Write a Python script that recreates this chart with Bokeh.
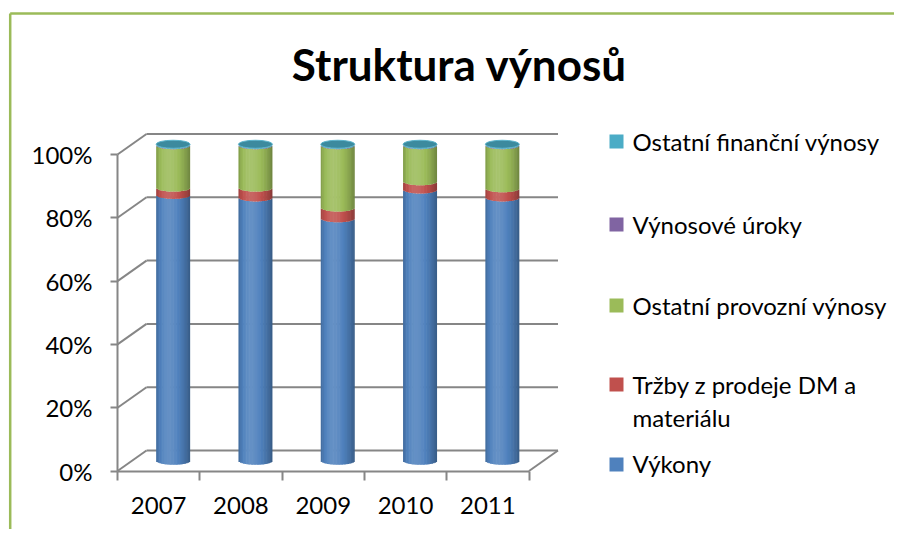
import numpy as np
from bokeh.plotting import figure
from bokeh.models import Range1d, FixedTicker, PrintfTickFormatter, ColumnDataSource
from bokeh.core.properties import value
from bokeh.embed import file_html
from bokeh.resources import INLINE

# ---------------- data ----------------
years = ["2007", "2008", "2009", "2010", "2011"]
vykony = [84.0, 83.2, 76.6, 85.7, 83.2]
trzby = [2.3, 3.1, 3.4, 2.6, 2.9]
provozni = [13.4, 13.4, 19.7, 11.4, 13.6]
uroky = [0.1, 0.1, 0.1, 0.1, 0.1]
financni = [0.2, 0.2, 0.2, 0.2, 0.2]

series_names = ["Výkony", "Tržby z prodeje DM a materiálu", "Ostatní provozní výnosy",
                "Výnosové úroky", "Ostatní finanční výnosy"]
series_colors = ["#4f81bd", "#c0504d", "#9bbb59", "#8064a2", "#4bacc6"]
y_ticks = [0, 20, 40, 60, 80, 100]
title_text = "Struktura výnosů"

# ---------------- layout geometry (canvas px) ----------------
W, H = 894, 529
AX_L = 117.0     # canvas x of the front-left corner (category -0.5)
AX_B = 470.5     # canvas y of 0 %
PX_X = 82.3      # px per category
PX_Y = 3.165     # px per percent
FONT = "Lato"
GRID = "#868686"

def cx(px):
    return -0.5 + (px - AX_L) / PX_X

def cy(py):
    return (AX_B - py) / PX_Y

DX = 29 / PX_X
DY = 20.5 / PX_Y
CW = 34 / PX_X
EH = 8 / PX_Y

p = figure(width=W, height=H, output_backend="svg", toolbar_location=None,
           x_range=Range1d(cx(0), cx(W)), y_range=Range1d(cy(H), cy(0)),
           min_border_left=0, min_border_right=0, min_border_top=0,
           min_border_bottom=0)
p.outline_line_color = None
p.xgrid.visible = False
p.ygrid.visible = False
p.background_fill_color = "white"
p.border_fill_color = "white"

n = len(years)

# y axis (drawn at the front-left edge)
ya = p.yaxis[0]
ya.fixed_location = -0.5
ya.ticker = FixedTicker(ticks=y_ticks)
ya.formatter = PrintfTickFormatter(format="%d%%")
ya.bounds = (0, 100)
ya.axis_line_color = GRID
ya.axis_line_width = 2
ya.major_tick_line_color = GRID
ya.major_tick_line_width = 2
ya.major_tick_out = 7
ya.major_tick_in = 0
ya.minor_tick_line_color = None
ya.major_label_text_font = FONT
ya.major_label_text_font_size = "24px"
ya.major_label_text_color = "black"
ya.major_label_standoff = 18

# x axis (front floor edge)
xa = p.xaxis[0]
xa.fixed_location = 0
xa.ticker = FixedTicker(ticks=list(range(n)),
                        minor_ticks=[i - 0.5 for i in range(n + 1)])
xa.major_label_overrides = {i: y for i, y in enumerate(years)}
xa.bounds = (-0.5, n - 0.5)
xa.axis_line_color = GRID
xa.axis_line_width = 2
xa.major_tick_line_color = None
xa.major_tick_out = 0
xa.major_tick_in = 0
xa.minor_tick_line_color = GRID
xa.minor_tick_line_width = 2
xa.minor_tick_out = 9
xa.minor_tick_in = 0
xa.major_label_text_font = FONT
xa.major_label_text_font_size = "24px"
xa.major_label_text_color = "black"
xa.major_label_standoff = 17

# ---------------- 3D walls ----------------
x0f, x1f = -0.5, n - 0.5
p.segment(x0=[x0f] * len(y_ticks), y0=y_ticks,
          x1=[x0f + DX] * len(y_ticks), y1=[t + DY for t in y_ticks],
          line_color=GRID, line_width=2)
p.segment(x0=[x0f + DX] * len(y_ticks), y0=[t + DY for t in y_ticks],
          x1=[x1f + DX] * len(y_ticks), y1=[t + DY for t in y_ticks],
          line_color=GRID, line_width=2)
p.segment(x0=[x1f], y0=[0], x1=[x1f + DX], y1=[DY], line_color=GRID, line_width=2)

# ---------------- cylinders ----------------
def shade(hx, f):
    r, g, b = int(hx[1:3], 16), int(hx[3:5], 16), int(hx[5:7], 16)
    if f >= 1:
        k = min(1.0, (f - 1) * 1.5)
        r, g, b = r + (255 - r) * k, g + (255 - g) * k, b + (255 - b) * k
    else:
        r, g, b = r * f, g * f, b * f
    return "#%02x%02x%02x" % (int(round(r)), int(round(g)), int(round(b)))

NS = 22
us = (np.arange(NS) + 0.5) / NS * 2 - 1
prof = [1.08 - 0.38 * ((u + 0.3) / 1.3) ** 2 - 0.15 * max(0.0, -u) ** 4 for u in us]
overlap = 0.6 / PX_X

values = [vykony, trzby, provozni, uroky, financni]
totals = np.sum(np.array(values), axis=0)
cum = np.zeros(n)
for vals, color, name in zip(values, series_colors, series_names):
    pct = np.array(vals) / totals * 100.0
    L, R, B, T, C = [], [], [], [], []
    for i in range(n):
        c0 = i + DX / 2
        for j, u in enumerate(us):
            a = EH / 2 * np.sqrt(max(0.0, 1 - u * u))
            left = c0 - CW / 2 + j * CW / NS
            right = min(left + CW / NS + overlap, c0 + CW / 2)
            L.append(left)
            R.append(right)
            B.append(DY / 2 + cum[i] - a)
            T.append(DY / 2 + cum[i] + pct[i] - a)
            C.append(shade(color, prof[j]))
    src = ColumnDataSource(dict(left=L, right=R, bottom=B, top=T, color=C))
    p.quad(left="left", right="right", bottom="bottom", top="top", fill_color="color",
           line_color=None, source=src, name=name)
    cum += pct

p.ellipse(x=[i + DX / 2 for i in range(n)], y=[DY / 2 + c for c in cum],
          width=CW, height=EH, fill_color=shade(series_colors[-1], 0.8),
          line_color=shade(series_colors[-1], 1.05), line_width=1)

# ---------------- title ----------------
p.text(x=[cx(459)], y=[cy(63)], text=[title_text], text_font=value(FONT),
       text_font_size="44px", text_font_style="bold", text_color="black",
       text_align="center", text_baseline="middle")

# ---------------- legend (manual, Excel-like spacing) ----------------
leg_rows = [(141, 4), (224, 3), (305, 2), (384, 1), (464, 0)]
sq = 14
p.quad(left=[cx(609)] * 5, right=[cx(609 + sq)] * 5,
       bottom=[cy(yc + sq / 2) for yc, _ in leg_rows],
       top=[cy(yc - sq / 2) for yc, _ in leg_rows],
       fill_color=[series_colors[s] for _, s in leg_rows], line_color=None)
leg_text = ["Ostatní finanční výnosy", "Výnosové úroky", "Ostatní provozní výnosy",
            "Tržby z prodeje DM a", "materiálu", "Výkony"]
leg_text_y = [141, 224, 305, 384, 417, 463]
p.text(x=[cx(632)] * len(leg_text), y=[cy(v) for v in leg_text_y], text=leg_text,
       text_font=value(FONT), text_font_size="24px", text_color="black",
       text_baseline="middle", text_align="left")

# ---------------- outer chart border (left + top edges) ----------------
BX, BY = 9.7, 13
p.segment(x0=[cx(BX), cx(BX)], y0=[cy(BY), cy(BY)],
          x1=[cx(BX), cx(W + 20)], y1=[cy(H + 20), cy(BY)],
          line_color="#9bbb59", line_width=2.5)

open("out.html", "w").write(file_html(p, INLINE))
